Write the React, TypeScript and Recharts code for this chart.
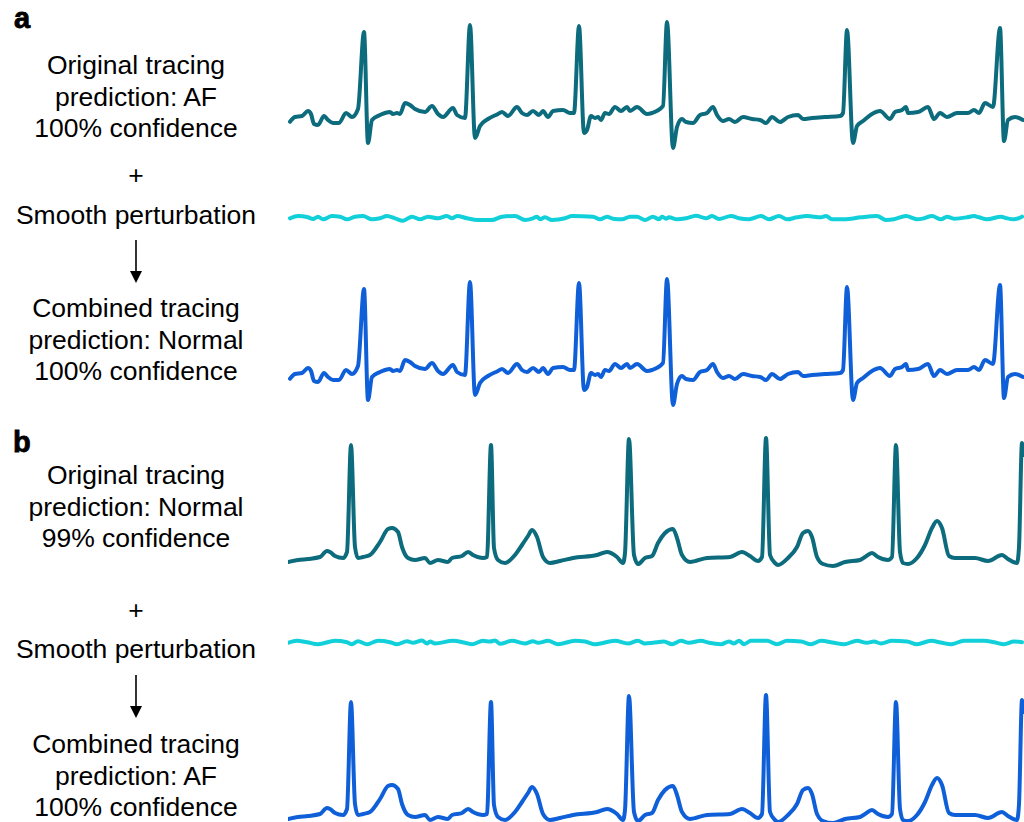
import React from "react";
import { LineChart, Line, XAxis, YAxis } from "recharts";

// time in samples (0..736), amplitude in arbitrary units (up = positive)
const originalA: [number, number][] = [
  [2, -1.7], [7, 3], [14, 4], [20, 9], [23, 6], [26, -4], [30, -5], [36, 4], [40, 0], [45, -3],
  [51, -3], [58, 7], [64, 3], [70, 11], [76, 88], [80, -23], [84, 0], [92, 5], [97, 7], [102, 8],
  [105, 6], [109, 7], [112, 6], [117, 17], [122, 15], [127, 11], [137, 8], [144, 14], [150, 6], [155, 3],
  [165, 12], [169, 5], [177, 2], [182, 95], [187, -18], [192, -6], [200, 1], [210, 6], [214, 8], [220, 4],
  [229, 13], [234, 7], [239, 5], [245, 9], [251, 5], [255, 9], [260, 3], [265, 9], [275, 10], [282, 7],
  [286, 7], [291, 94], [296, -13], [299, -10], [303, 4], [307, 2], [310, 3], [313, 0], [317, 7], [321, 6],
  [327, 13], [333, 9], [339, 13], [342, 9], [349, 13], [359, 6], [364, 7], [375, 14], [379, 98], [385, -28],
  [389, -7], [394, 1], [398, -2], [405, -3], [412, 5], [419, 7], [425, 13], [429, 5], [435, -1], [441, 1],
  [447, -2], [455, 3], [464, 1], [472, 0], [478, -3], [484, 3], [492, -2], [500, 3], [510, 5], [515, 1],
  [524, 2], [537, 3], [552, 4], [555, 7], [559, 90], [565, -23], [569, -6], [575, -1], [584, 6], [592, 9],
  [602, 1], [607, 8], [614, 10], [618, 13], [620, 7], [630, 8], [640, 13], [646, 1], [652, 7], [659, 3],
  [669, 7], [680, 7], [686, 10], [691, 7], [697, 17], [705, 13], [712, 92], [716, -21], [720, 0], [727, 3],
  [735, 0],
];

const perturbationA: [number, number][] = [
  [2, -0.3], [10, 2], [20, 0.7], [25, -1], [30, 1.3], [35, -1.3], [44, 2], [52, 1.3], [59, -1.3], [67, 1.3],
  [75, 2], [84, -1.3], [92, -0.3], [99, 2], [107, -0.3], [115, -2.7], [124, 1.3], [132, -1.3], [140, 1.3], [150, -0.3],
  [159, 2], [164, -0.3], [169, 2], [179, -0.3], [190, -2], [204, -2], [214, 1.3], [227, 2], [237, -2], [245, -0.3],
  [249, 1.3], [252, -1.3], [257, 0.7], [264, -2], [277, -0.3], [284, 2], [305, 1.3], [312, -1.3], [319, 1.3], [325, -0.7],
  [334, -1.3], [342, 1.3], [349, 1.3], [357, -2], [365, 1.3], [371, -1.3], [374, 1.3], [378, -0.7], [381, 0.7], [389, -1.3],
  [398, -0.3], [408, 2.3], [418, -0.3], [424, 2], [431, -1], [443, 2], [451, -0.3], [461, -1.3], [473, 2], [481, -1.3],
  [491, 2], [499, -1.3], [509, 0.7], [519, 2], [533, 0.7], [538, 2], [544, -1.3], [556, -1.3], [573, 0.7], [589, 2],
  [598, -2], [606, -1.3], [618, 2], [629, -1.3], [636, -0.3], [644, 2], [653, -1.3], [659, 1.3], [666, -0.7], [679, 0.7],
  [686, 2], [691, 0.7], [699, -1.3], [713, 1.3], [719, -0.3], [726, -1.3], [734, 1.3],
];

const originalB: [number, number][] = [
  [0, -2], [10, 0], [20, 1], [32, 3], [39, 9], [42, 8], [47, 4], [55, 2], [59, 8], [63, 115],
  [67, 13], [70, 2], [75, 3], [82, 5], [92, 18], [100, 31], [104, 32], [110, 28], [114, 13], [120, 2],
  [127, 0], [137, 2], [142, -3], [150, 0], [160, -2], [164, 2], [174, 4], [180, 8], [185, 5], [195, 2],
  [199, 3], [203, 115], [206, 12], [210, 0], [217, -3], [227, 5], [234, 15], [240, 24], [244, 30], [249, 23],
  [255, 3], [262, -3], [272, -1], [285, 2], [309, 5], [319, 8], [329, 3], [335, -3], [337, 7], [341, 121],
  [346, 5], [350, -4], [357, 2], [364, 4], [370, 17], [377, 27], [385, 31], [389, 22], [394, 5], [402, -2],
  [419, 2], [442, 3], [454, 8], [462, 4], [470, -1], [474, 3], [478, 122], [482, 5], [487, -3], [490, -5],
  [500, 2], [509, 13], [515, 27], [520, 29], [524, 23], [529, 3], [535, -4], [545, -6], [557, -2], [572, 0],
  [577, 3], [584, 7], [590, 3], [600, 0], [604, 3], [608, 115], [612, 8], [615, -3], [620, -4], [629, 2],
  [637, 15], [644, 32], [649, 39], [654, 32], [661, 4], [667, 2], [687, 2], [700, -1], [714, 5], [720, 1],
  [729, -3], [731, 13], [734, 117], [736, 105],
];

const perturbationB: [number, number][] = [
  [0, -0.8], [9, 1.2], [19, -0.2], [30, -2.2], [47, 1.2], [59, -0.2], [64, -2.2], [70, 0.8], [79, -2.2], [90, 1.2],
  [102, -0.2], [109, -2.2], [119, 0.8], [125, -0.8], [134, 1.5], [139, -1.5], [142, 0.5], [147, -1.5], [165, 1.2], [177, -0.8],
  [184, -2.2], [195, 1.2], [202, 0.5], [207, 1.5], [212, -1.8], [224, 1.2], [237, -1.5], [245, 0.8], [250, -0.8], [260, 1.2],
  [270, -2.2], [287, 1.2], [297, 0.5], [307, -2.2], [327, 1.2], [340, -1.5], [350, 1.2], [357, -1.5], [365, -0.8], [376, 0.5],
  [384, -2.2], [393, 1.2], [401, -0.8], [413, 1.2], [421, -0.8], [433, -2.2], [441, 0.5], [446, -1.5], [451, 1.2], [456, -2.2],
  [463, 1.2], [479, 1.2], [489, -2.2], [499, 1.2], [513, 0.5], [523, -2.2], [533, 1.2], [546, -0.8], [556, -2.2], [569, 1.2],
  [579, -0.8], [586, 0.5], [593, -1.5], [604, 1.2], [619, 0.5], [629, -2.2], [643, 1.2], [654, -0.8], [663, -2.2], [676, 1.2],
  [696, 1.2], [706, -0.2], [716, -2.2], [726, 0.5], [734, -0.2],
];

// the combined tracings are visually indistinguishable from the originals
const combinedA = originalA;
const combinedB = originalB;

const labelsA = {
  original: ["Original tracing", "prediction: AF", "100% confidence"],
  combined: ["Combined tracing", "prediction: Normal", "100% confidence"],
};
const labelsB = {
  original: ["Original tracing", "prediction: Normal", "99% confidence"],
  combined: ["Combined tracing", "prediction: AF", "100% confidence"],
};

const TEAL = "#0c6b7c";
const CYAN = "#12d0da";
const BLUE = "#0f60d8";

const toRows = (arr: [number, number][]) => arr.map(([t, v]) => ({ t, v }));

function Trace({
  data, top, height, domain, color, width,
}: {
  data: [number, number][]; top: number; height: number; domain: [number, number]; color: string; width: number;
}) {
  return (
    <div style={{ position: "absolute", left: 288, top }}>
      <LineChart width={736} height={height} data={toRows(data)} margin={{ top: 0, right: 0, bottom: 0, left: 0 }}>
        <XAxis dataKey="t" type="number" domain={[0, 736]} hide />
        <YAxis type="number" domain={domain} hide width={0} />
        <Line
          dataKey="v"
          type="monotone"
          stroke={color}
          strokeWidth={width}
          dot={false}
          isAnimationActive={false}
          strokeLinejoin="round"
          strokeLinecap="round"
        />
      </LineChart>
    </div>
  );
}

const FONT = "'Liberation Sans', Arial, Helvetica, sans-serif";

function Arrow({ y1, y2 }: { y1: number; y2: number }) {
  return (
    <g>
      <line x1={136} y1={y1} x2={136} y2={y2 - 10} stroke="#000" strokeWidth={1.6} />
      <polygon points={`${130},${y2 - 12} ${142},${y2 - 12} ${136},${y2}`} fill="#000" />
    </g>
  );
}

export default function App() {
  const fs = 26.5;
  return (
    <div
      style={{
        position: "absolute", left: 0, top: 0, width: 1024, height: 822,
        overflow: "hidden", background: "#fff",
      }}
    >
      <svg width={286} height={822} style={{ position: "absolute", left: 0, top: 0 }}>
        <g fontFamily={FONT} fontSize={fs} fill="#000" textAnchor="middle">
          <text x={14} y={28} textAnchor="start" fontWeight="900" fontSize={29} stroke="#000" strokeWidth={0.8}>a</text>
          {labelsA.original.map((s, i) => (
            <text key={"ao" + i} x={136} y={74 + i * 31.5}>{s}</text>
          ))}
          <text x={136} y={184}>+</text>
          <text x={136} y={224}>Smooth perturbation</text>
          {labelsA.combined.map((s, i) => (
            <text key={"ac" + i} x={136} y={317 + i * 31.5}>{s}</text>
          ))}

          <text x={13} y={452} textAnchor="start" fontWeight="900" fontSize={29} stroke="#000" strokeWidth={0.8}>b</text>
          {labelsB.original.map((s, i) => (
            <text key={"bo" + i} x={136} y={484 + i * 31.5}>{s}</text>
          ))}
          <text x={136} y={619}>+</text>
          <text x={136} y={658}>Smooth perturbation</text>
          {labelsB.combined.map((s, i) => (
            <text key={"bc" + i} x={136} y={753 + i * 31.5}>{s}</text>
          ))}
        </g>
        <Arrow y1={240} y2={283} />
        <Arrow y1={675} y2={718} />
      </svg>

      <Trace data={originalA} top={20} height={140} domain={[-40, 100]} color={TEAL} width={4} />
      <Trace data={perturbationA} top={208} height={20} domain={[-10, 10]} color={CYAN} width={4} />
      <Trace data={combinedA} top={277} height={140} domain={[-40, 100]} color={BLUE} width={4} />

      <Trace data={originalB} top={435} height={140} domain={[-15, 125]} color={TEAL} width={4} />
      <Trace data={perturbationB} top={631.5} height={20} domain={[-10, 10]} color={CYAN} width={4} />
      <Trace data={combinedB} top={692} height={140} domain={[-15, 125]} color={BLUE} width={4} />
    </div>
  );
}
